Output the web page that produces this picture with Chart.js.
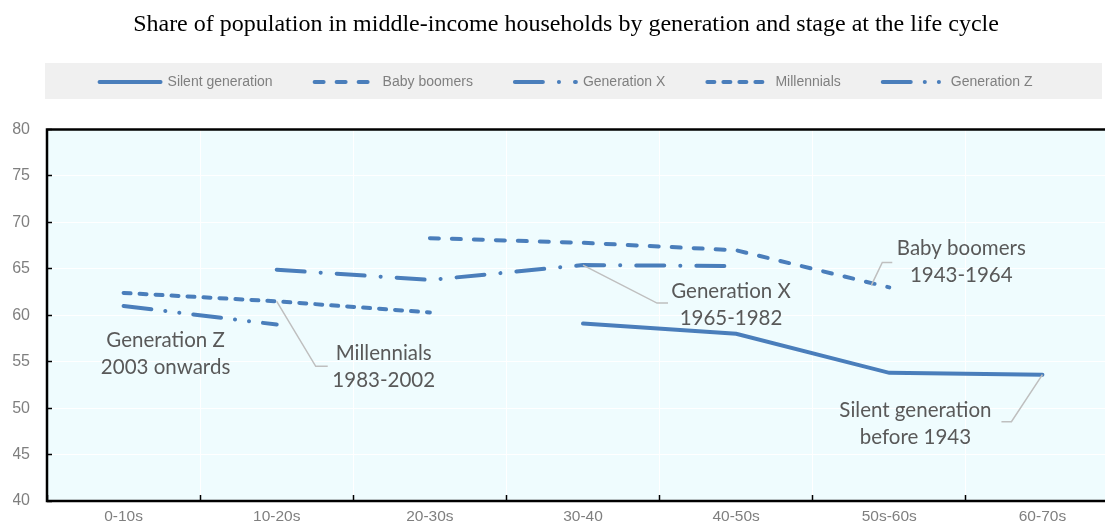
<!DOCTYPE html>
<html>
<head>
<meta charset="utf-8">
<title>Middle-income households by generation</title>
<script src="https://cdn.jsdelivr.net/npm/chart.js@4.4.0/dist/chart.umd.min.js"></script>
<style>
  html, body { margin: 0; padding: 0; background: #fff; overflow: hidden; }
  #wrap { width: 1150px; height: 525px; }
</style>
</head>
<body>
<div id="wrap"><canvas id="myCanvas" width="1150" height="525"></canvas></div>
<script>
// life-cycle stages (x categories)
var stages = ['0-10s', '10-20s', '20-30s', '30-40', '40-50s', '50s-60s', '60-70s'];

// share of population in middle-income households, %
var silentGen   = [null, null, null, 59.1, 58.0, 53.8, 53.6];
var babyBoomers = [null, null, 68.3, 67.8, 67.0, 63.0, null];
var generationX = [null, 64.9, 63.8, 65.4, 65.3, null, null];
var millennials = [62.4, 61.5, 60.3, null, null, null, null];
var generationZ = [61.0, 59.0, null, null, null, null, null];

var seriesNames = ['Silent generation', 'Baby boomers', 'Generation X', 'Millennials', 'Generation Z'];
var cohortLabels = [
  ['Silent generation', 'before 1943'],
  ['Baby boomers', '1943-1964'],
  ['Generation X', '1965-1982'],
  ['Millennials', '1983-2002'],
  ['Generation Z', '2003 onwards']
];

var yTicks = [40, 45, 50, 55, 60, 65, 70, 75, 80];

var blue = '#4a7ebb';
var sans = "'Liberation Sans', Arial, sans-serif";

function line(label, data, dash) {
  return {
    label: label,
    data: data,
    borderColor: blue,
    backgroundColor: blue,
    borderWidth: 4,
    borderDash: dash,
    borderCapStyle: 'round',
    pointRadius: 0,
    pointHoverRadius: 0,
    tension: 0,
    spanGaps: false
  };
}

// plot background, frame and grey legend strip
var decor = {
  id: 'decor',
  beforeDraw: function(chart) {
    var c = chart.ctx, a = chart.chartArea;
    c.save();
    c.fillStyle = '#f0f0f0';
    c.fillRect(a.left - 2, 63, 1102 - a.left + 2, 36);
    c.fillStyle = '#effcfe';
    c.fillRect(a.left, a.top, a.right - a.left, a.bottom - a.top);
    c.restore();
  },
  beforeDatasetsDraw: function(chart) {
    var c = chart.ctx, a = chart.chartArea;
    c.save();
    c.strokeStyle = '#000';
    c.lineWidth = 2.5;
    c.strokeRect(a.left, a.top, a.right - a.left, a.bottom - a.top);
    c.restore();
  }
};

// cohort labels with leader lines, anchored on data points
var cohortNotes = {
  id: 'cohortNotes',
  afterDatasetsDraw: function(chart, args, opts) {
    var c = chart.ctx, xs = chart.scales.x, ys = chart.scales.y;
    c.save();
    opts.items.forEach(function(it) {
      var v = chart.data.datasets[it.ds].data[it.idx];
      var px = xs.getPixelForValue(it.idx), py = ys.getPixelForValue(v);
      if (it.leader) {
        c.beginPath();
        c.strokeStyle = '#bfbfbf';
        c.lineWidth = 1.5;
        it.leader.forEach(function(p, i) {
          if (i === 0) c.moveTo(px + p[0], py + p[1]);
          else c.lineTo(px + p[0], py + p[1]);
        });
        c.stroke();
      }
      c.fillStyle = '#595959';
      c.font = "20.5px Lato, 'Open Sans', sans-serif";
      c.textAlign = 'center';
      c.textBaseline = 'middle';
      cohortLabels[it.ds].forEach(function(t, i) {
        c.fillText(t, px + it.text[0], py + it.text[1] + i * 27);
      });
    });
    c.restore();
  }
};

new Chart(document.getElementById('myCanvas'), {
  type: 'line',
  data: {
    labels: stages,
    datasets: [
      line(seriesNames[0], silentGen, []),
      line(seriesNames[1], babyBoomers, [9, 13]),
      line(seriesNames[2], generationX, [28, 16, 0.1, 16]),
      line(seriesNames[3], millennials, [7, 9]),
      line(seriesNames[4], generationZ, [28, 14, 0.1, 14, 0.1, 14])
    ]
  },
  options: {
    responsive: false,
    animation: false,
    devicePixelRatio: 1,
    layout: { padding: { left: 13, right: 31, top: 0, bottom: 0 } },
    plugins: {
      title: {
        display: true,
        text: 'Share of population in middle-income households by generation and stage at the life cycle',
        color: '#000',
        font: { family: "'Liberation Serif', 'Times New Roman', serif", size: 24, weight: 'normal' },
        padding: { top: 10.6, bottom: -6.4 }
      },
      // empty spacer between the legend strip and the plot
      subtitle: {
        display: true,
        text: '',
        weight: 500,
        font: { size: 10 },
        padding: { top: 18.5, bottom: 0 }
      },
      legend: {
        display: true,
        position: 'top',
        labels: {
          usePointStyle: true,
          pointStyle: 'line',
          pointStyleWidth: 61,
          padding: 42,
          color: '#7f7f7f',
          font: { family: sans, size: 14 },
          generateLabels: function(chart) {
            var items = Chart.defaults.plugins.legend.labels.generateLabels(chart);
            items.forEach(function(item) {
              var ds = chart.data.datasets[item.datasetIndex];
              item.lineDash = ds.borderDash;
              item.lineCap = ds.borderCapStyle;
              item.lineWidth = ds.borderWidth;
              item.strokeStyle = ds.borderColor;
            });
            return items;
          }
        }
      },
      tooltip: { enabled: false },
      cohortNotes: {
        items: [
          { ds: 4, idx: 0, text: [42, 34] },
          { ds: 3, idx: 1, leader: [[0, 0], [39, 65], [51, 65]], text: [107, 52] },
          { ds: 2, idx: 3, leader: [[0, 0], [74, 38], [85, 38]], text: [148, 26] },
          { ds: 1, idx: 5, leader: [[-18, -2], [-7, -25], [3, -25]], text: [72, -39] },
          { ds: 0, idx: 6, leader: [[0, 0], [-31, 47], [-41, 47]], text: [-127, 36] }
        ]
      }
    },
    scales: {
      x: {
        offset: true,
        grid: { offset: true, color: '#ffffff', lineWidth: 1, tickColor: '#000', tickLength: -6, tickWidth: 1.5 },
        border: { display: false },
        ticks: { color: '#7f7f7f', font: { family: sans, size: 15.5 }, padding: 12, maxRotation: 0 },
        afterFit: function(s) { s.height = 24; }
      },
      y: {
        min: 40,
        max: 80,
        afterBuildTicks: function(s) { s.ticks = yTicks.map(function(v) { return { value: v }; }); },
        grid: { color: '#ffffff', lineWidth: 1, tickColor: '#000', tickLength: -5, tickWidth: 1.5 },
        border: { display: false },
        ticks: { color: '#7f7f7f', font: { family: sans, size: 16 }, padding: 22 },
        afterFit: function(s) {
          s.width = 34;
          s.paddingTop = 0;
          s.paddingBottom = 0;
        }
      }
    }
  },
  plugins: [decor, cohortNotes]
});
</script>
</body>
</html>
